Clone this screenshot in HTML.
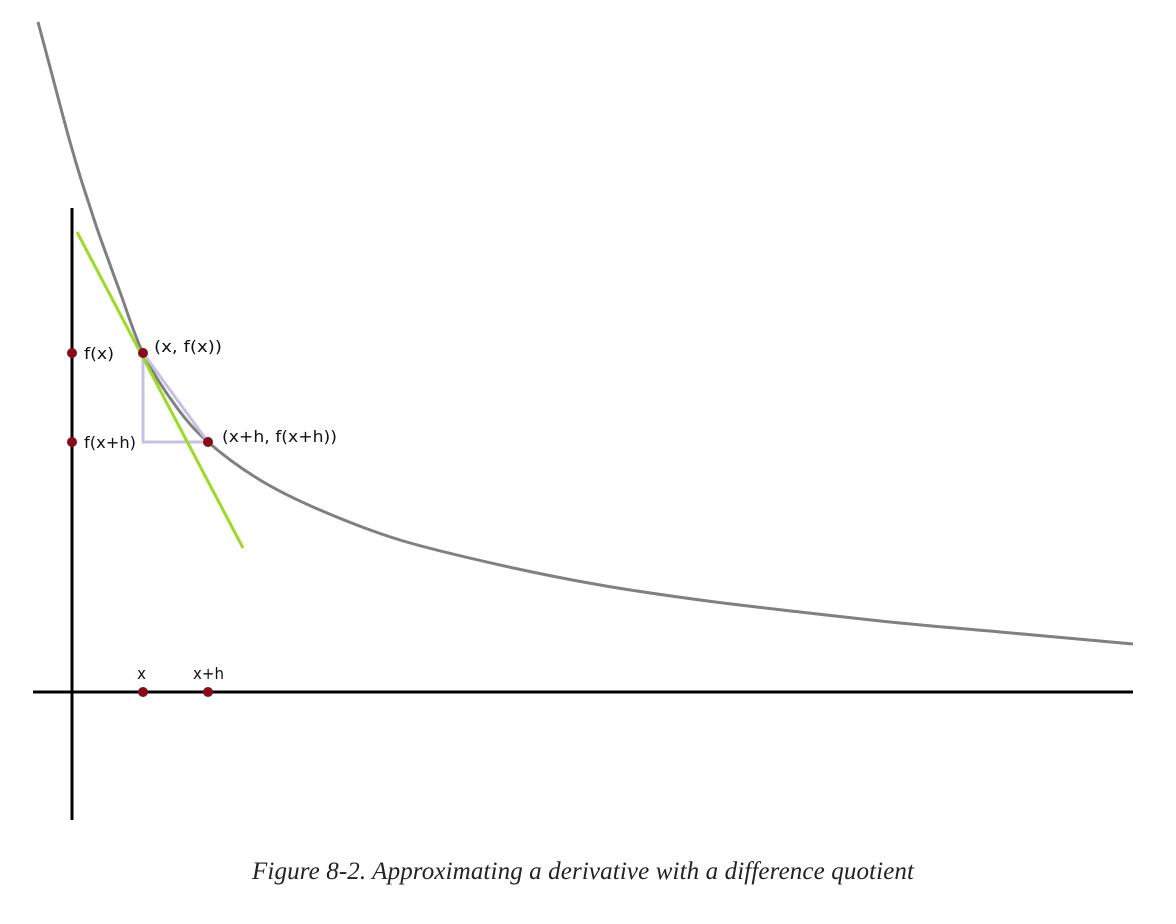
<!DOCTYPE html>
<html><head><meta charset="utf-8"><style>
html,body{margin:0;padding:0;background:#fff;width:1176px;height:924px;overflow:hidden}
svg{display:block}
.lbl{font-family:"DejaVu Sans","Liberation Sans",sans-serif;font-size:16px;fill:#111}
.cap{font-family:"Liberation Serif",serif;font-style:italic;font-size:25px;fill:#222}
</style></head><body>
<svg id="chart" width="1176" height="924">
<text class="cap" x="583" y="879" text-anchor="middle" textLength="662">Figure 8-2. Approximating a derivative with a difference quotient</text>
</svg>
<script>
// data coords: x right from origin, y up from origin (pixel units)
const curveX = [-34,-22,-12,-2,8,18,28,48,71,103,136,188,248,328,428,528,628,728,828,928,1061];
const curveY = [670,625,587,550,516,485,455,400,339,287,250,212,182,152,127,107,92,80,69,60,48];
const tangentX = [5,171];
const tangentY = [460,144];
const ptX = 71, ptXh = 136;
const fx = 339, fxh = 250;
const ox=72, oy=692;
function sx(v){return ox+v;}
function sy(v){return oy-v;}
const svg=document.getElementById('chart');
const NS='http://www.w3.org/2000/svg';
function mk(t,a){const e=document.createElementNS(NS,t);for(const k in a)e.setAttribute(k,a[k]);svg.appendChild(e);return e;}
let e;
e=mk('line',{x1:72,y1:208,x2:72,y2:820,stroke:'#000','stroke-width':3});


e=mk('line',{x1:33,y1:692,x2:1133,y2:692,stroke:'#000','stroke-width':3});


function cr(xs,ys){let p=xs.map((x,i)=>[sx(x),sy(ys[i])]);let s='M'+p[0][0]+','+p[0][1];
for(let i=0;i<p.length-1;i++){const p0=p[i-1]||p[i],p1=p[i],p2=p[i+1],p3=p[i+2]||p2;
s+=' C'+(p1[0]+(p2[0]-p0[0])/6)+','+(p1[1]+(p2[1]-p0[1])/6)+' '+(p2[0]-(p3[0]-p1[0])/6)+','+(p2[1]-(p3[1]-p1[1])/6)+' '+p2[0]+','+p2[1];}return s;}
e=mk('path',{d:cr(curveX,curveY),fill:'none',stroke:'#808080','stroke-width':3});


e=mk('polygon',{points:`${sx(ptX)},${sy(fx)} ${sx(ptX)},${sy(fxh)} ${sx(ptXh)},${sy(fxh)}`,fill:'none',stroke:'#c8bfe7','stroke-width':3});


e=mk('line',{x1:sx(tangentX[0]),y1:sy(tangentY[0]),x2:sx(tangentX[1]),y2:sy(tangentY[1]),stroke:'#99dd22','stroke-width':3});


const dots=[[0,fx,'dot-fx'],[0,fxh,'dot-fxh'],[ptX,0,'dot-x'],[ptXh,0,'dot-xh'],[ptX,fx,'dot-point-x'],[ptXh,fxh,'dot-point-xh']];
dots.forEach(p=>{const c=mk('circle',{cx:sx(p[0]),cy:sy(p[1]),r:5,fill:'#8b0a1a'});

});
const labels=[[84,359,'f(x)','label-fx',30],[84,448,'f(x+h)','label-fxh',52],[137,679,'x','label-x',9],[193,679,'x+h','label-xh',31],[154,352,'(x, f(x))','label-point-x',68],[222,442,'(x+h, f(x+h))','label-point-xh',115]];
labels.forEach(l=>{const t=mk('text',{x:l[0],y:l[1],class:'lbl',textLength:l[4],lengthAdjust:'spacingAndGlyphs'});t.textContent=l[2];

});
</script>
</body></html>
